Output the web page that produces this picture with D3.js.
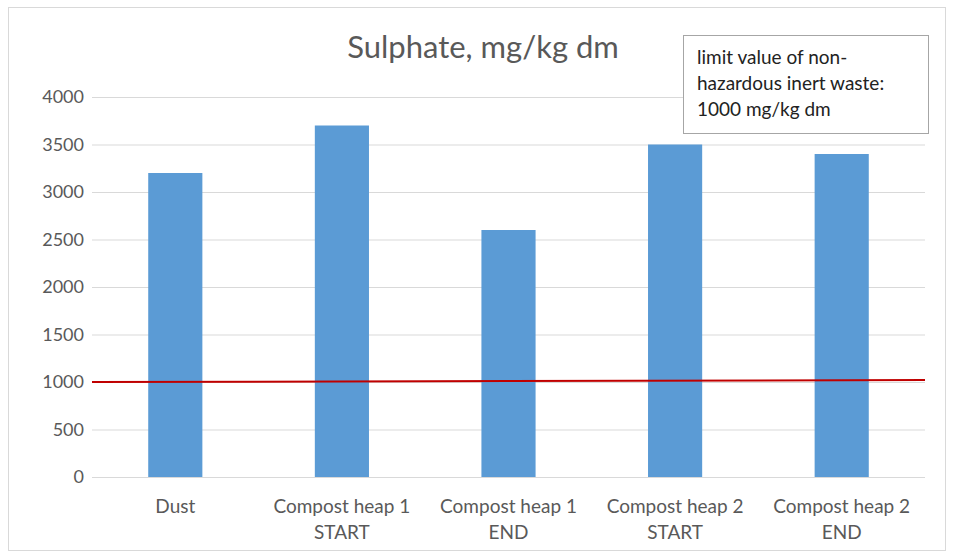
<!DOCTYPE html>
<html>
<head>
<meta charset="utf-8">
<script src="https://cdn.jsdelivr.net/npm/d3@7"></script>
<style>
  body { margin: 0; background: #fff; }
  text { font-family: Lato, "Open Sans", sans-serif; }
</style>
</head>
<body>
<div id="chart"></div>
<script>
// chart data
const categories = [
  ["Dust"],
  ["Compost heap 1", "START"],
  ["Compost heap 1", "END"],
  ["Compost heap 2", "START"],
  ["Compost heap 2", "END"]
];
const values = [3200, 3700, 2600, 3500, 3400];
const yTicks = [0, 500, 1000, 1500, 2000, 2500, 3000, 3500, 4000];
// limit line, read at the left and right ends of the plot
const limitLine = [1000, 1020];
const titleText = "Sulphate, mg/kg dm";
const noteLines = ["limit value of non-", "hazardous inert waste:", "1000 mg/kg dm"];

let width = 954, height = 558;
let margin = { left: 92, right: 29, top: 97, bottom: 81 };

let svg = d3.select('#chart').append('svg')
    .attr('width', width)
    .attr('height', height);

// outer frame
svg.append('rect')
    .attr('x', 8.5).attr('y', 7.5)
    .attr('width', 937).attr('height', 543)
    .attr('fill', '#fff')
    .attr('stroke', '#d9d9d9');

let x = d3.scaleBand()
    .domain(d3.range(categories.length))
    .range([margin.left, width - margin.right])
    .paddingInner(0.675)
    .paddingOuter(0.3375);

let y = d3.scaleLinear()
    .domain([0, 4000])
    .range([height - margin.bottom, margin.top]);

// gridlines
let yAxis = svg.append('g')
    .attr('transform', `translate(${margin.left},0)`)
    .call(d3.axisLeft(y).tickValues(yTicks)
        .tickFormat(d3.format('d'))
        .tickSize(-(width - margin.left - margin.right))
        .tickPadding(8));
yAxis.select('.domain').remove();
yAxis.selectAll('.tick line').attr('stroke', '#d9d9d9');
yAxis.selectAll('.tick text')
    .attr('fill', '#595959')
    .style('font-size', '18px');

// bars
svg.append('g').selectAll('rect')
    .data(values)
    .enter()
    .append('rect')
    .attr('x', (d, i) => x(i))
    .attr('y', d => y(d))
    .attr('width', x.bandwidth())
    .attr('height', d => y(0) - y(d))
    .attr('fill', '#5b9bd5');

// category labels
svg.append('g').selectAll('text')
    .data(categories)
    .enter()
    .append('text')
    .attr('x', (d, i) => x(i) + x.bandwidth() / 2)
    .attr('y', height - margin.bottom + 36)
    .attr('text-anchor', 'middle')
    .attr('fill', '#595959')
    .style('font-size', '19px')
    .selectAll('tspan')
    .data(d => d)
    .enter()
    .append('tspan')
    .attr('x', function () { return d3.select(this.parentNode).attr('x'); })
    .attr('dy', (d, i) => i === 0 ? 0 : 26)
    .text(d => d);

// limit line
let xLine = d3.scaleLinear().domain([0, 1]).range([margin.left, width - margin.right]);
svg.append('path')
    .datum(limitLine)
    .attr('d', d3.line().x((d, i) => xLine(i)).y(d => y(d)))
    .attr('stroke', '#c00000')
    .attr('stroke-width', 2)
    .attr('fill', 'none');

// title
svg.append('text')
    .attr('x', 483)
    .attr('y', 58)
    .attr('text-anchor', 'middle')
    .attr('fill', '#595959')
    .style('font-size', '31px')
    .text(titleText);

// note box
let note = svg.append('g').attr('transform', 'translate(683,35)');
note.append('rect')
    .attr('x', 0.5).attr('y', 0.5)
    .attr('width', 245).attr('height', 98)
    .attr('fill', '#fff')
    .attr('stroke', '#a6a6a6');
note.selectAll('text')
    .data(noteLines)
    .enter()
    .append('text')
    .attr('x', 14)
    .attr('y', (d, i) => 29 + i * 26)
    .attr('fill', '#222')
    .style('font-size', '19px')
    .text(d => d);
</script>
</body>
</html>
